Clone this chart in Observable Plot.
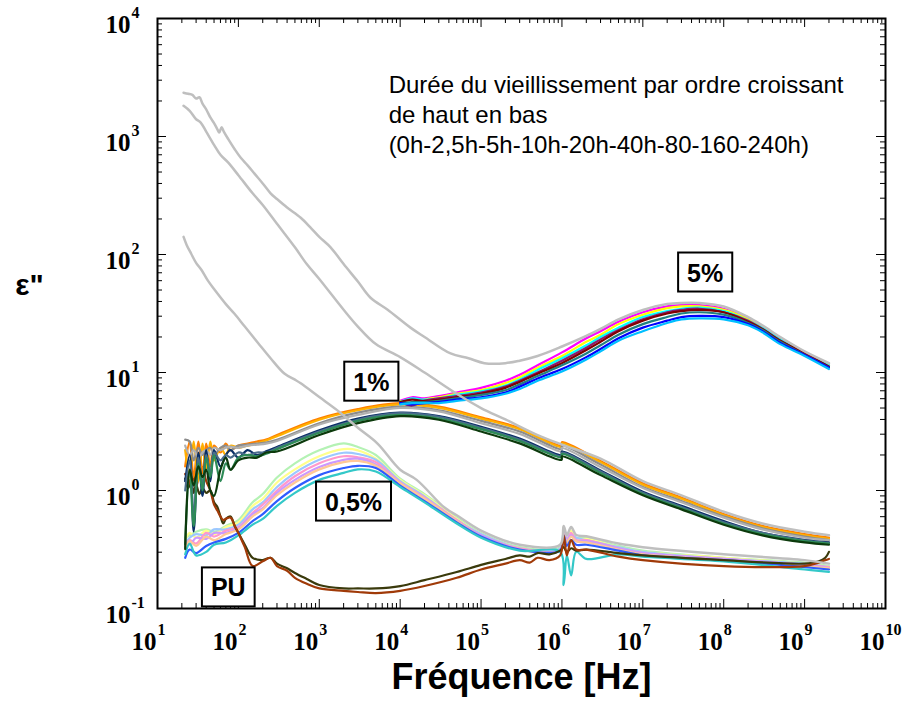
<!DOCTYPE html>
<html><head><meta charset="utf-8">
<script src="https://cdn.jsdelivr.net/npm/d3@7"></script>
<script src="https://cdn.jsdelivr.net/npm/@observablehq/plot@0.6"></script>
<style>body{margin:0;background:#fff;} svg{display:block;}</style>
</head><body><div id="chart"></div>
<script>
// ---------- tick labels (exponents of 10) ----------
const xTickExps = [1, 2, 3, 4, 5, 6, 7, 8, 9, 10];
const yTickExps = [-1, 0, 1, 2, 3, 4];

// ---------- 0h curves (grey) ----------
const freqGray5 = [21, 24, 27, 30, 33, 36, 40, 45, 50, 55, 58, 62, 66, 75, 90, 107, 130, 160, 200, 250, 300, 400, 590, 800, 1000, 1380, 2000, 3000, 4300, 7000, 1.34e4, 2e4, 4.2e4, 7e4, 1.1e5, 2e5, 3e5, 5e5, 1e6, 2e6, 3e6, 5e6, 1e7, 2e7, 3e7, 5e7, 1e8, 2e8, 3e8, 5e8, 1e9, 2e9];
const gray5_0h = [2350, 2300, 2250, 2100, 2150, 1900, 1700, 1450, 1300, 1150, 1080, 1200, 1100, 950, 780, 660, 570, 480, 400, 330, 295, 250, 205, 166, 141, 115, 83, 59, 43, 34, 24, 20, 14.5, 13.2, 12.0, 12.0, 12.6, 13.8, 16.6, 20.4, 23.4, 28.2, 33.9, 38.0, 38.9, 38.9, 36.3, 29.5, 25.1, 20.0, 15.1, 12.0];
const freqGray1 = [21, 25, 30, 34, 40, 50, 60, 75, 100, 150, 200, 300, 500, 700, 1000, 2000, 3000, 5000, 1e4, 2e4, 5e4, 1e5, 2e5, 5e5, 1e6, 3e6, 1e7, 3e7, 1e8, 3e8, 1e9, 2e9];
const gray1_0h = [1820, 1650, 1400, 1320, 1100, 850, 700, 600, 470, 330, 263, 182, 115, 83, 62, 34, 24.5, 17.4, 13.5, 10, 6.6, 5.0, 4.0, 2.95, 2.45, 1.86, 1.20, 0.91, 0.66, 0.525, 0.447, 0.417];
const freqGray05 = [21, 23, 26, 30, 35, 42, 50, 70, 89, 120, 175, 250, 370, 500, 590, 1000, 1660, 3000, 5250, 1e4, 1.6e4, 3.5e4, 5e4, 1e5, 3e5, 9.5e5, 1.05e6, 1.15e6, 1.3e6, 1.5e6, 2e6, 5e6, 1e7, 1e8, 1e9, 2e9];
const gray05_0h = [141, 120, 102, 85, 74, 60, 51, 38, 31.6, 24.5, 17.8, 13.2, 9.8, 8.7, 8.1, 6.2, 4.8, 3.4, 2.5, 1.5, 1.23, 0.72, 0.617, 0.457, 0.347, 0.347, 0.50, 0.42, 0.49, 0.42, 0.41, 0.355, 0.331, 0.288, 0.257, 0.240];

// ---------- 5 % ----------
const freq5 = [1e4, 1.4e4, 2e4, 3e4, 5e4, 1e5, 2e5, 3e5, 5e5, 1e6, 2e6, 3e6, 5e6, 1e7, 2e7, 3e7, 5e7, 1e8, 2e8, 3e8, 5e8, 1e9, 2e9];
const pct5_2h5 = [5.75, 6.17, 6.03, 6.31, 6.76, 7.41, 8.51, 9.55, 11.5, 14.8, 19.5, 22.4, 26.9, 32.4, 36.3, 37.2, 37.2, 34.7, 28.8, 24.5, 19.5, 14.8, 11.7];
const pct5_5h = [5.75, 5.50, 5.89, 6.17, 6.61, 7.08, 8.13, 9.12, 11.0, 13.8, 18.2, 20.9, 25.7, 30.9, 35.1, 36.3, 36.3, 33.9, 28.2, 24.0, 19.1, 14.8, 11.5];
const pct5_10h = [5.62, 6.03, 5.89, 6.03, 6.46, 6.92, 7.76, 8.71, 10.5, 13.2, 17.0, 20.0, 24.0, 29.5, 33.1, 34.7, 35.5, 33.1, 27.5, 24.0, 19.1, 14.5, 11.5];
const pct5_20h = [5.62, 5.25, 5.75, 6.03, 6.31, 6.76, 7.59, 8.51, 10.0, 12.6, 16.2, 19.1, 22.9, 28.2, 32.4, 33.9, 34.7, 32.4, 27.5, 23.4, 18.6, 14.5, 11.2];
const pct5_40h = [5.62, 5.89, 5.75, 5.89, 6.17, 6.61, 7.41, 8.32, 9.77, 12.0, 15.5, 18.2, 22.4, 27.5, 31.6, 33.1, 33.9, 32.4, 26.9, 23.4, 18.6, 14.5, 11.2];
const pct5_80h = [5.50, 5.62, 5.62, 5.75, 6.03, 6.46, 7.08, 7.94, 9.33, 11.5, 14.5, 17.0, 20.9, 25.7, 29.5, 31.6, 32.4, 30.9, 26.3, 22.9, 18.2, 14.1, 11.0];
const pct5_160h = [5.50, 5.37, 5.50, 5.62, 5.89, 6.17, 6.76, 7.59, 8.91, 10.7, 13.5, 15.8, 19.5, 24.0, 27.5, 29.5, 30.2, 29.5, 25.7, 22.4, 17.8, 14.1, 11.0];
const pct5_240h = [5.37, 5.50, 5.50, 5.50, 5.75, 6.03, 6.61, 7.24, 8.51, 10.2, 12.9, 15.1, 18.6, 22.4, 26.3, 28.2, 28.8, 28.2, 25.1, 21.9, 17.4, 13.8, 10.7];

// ---------- 1 % ----------
const freq1 = [22, 25, 28, 32, 36, 40, 45, 50, 60, 70, 80, 100, 130, 170, 220, 300, 1e3, 3e3, 1e4, 3e4, 1e5, 3e5, 9.9e5, 1e6, 3e6, 1e7, 3e7, 1e8, 3e8, 1e9, 2e9];
const pct1_2h5 = [1.6, 2.6, 1.3, 2.6, 1.4, 2.5, 1.6, 2.4, 2.1, 2.5, 2.2, 2.4, 2.5, 2.6, 2.7, 2.95, 4.07, 4.90, 5.50, 5.13, 4.17, 3.39, 2.40, 2.57, 1.78, 1.15, 0.871, 0.631, 0.501, 0.427, 0.398];
const pct1_5h = [2.2, 1.3, 2.6, 1.2, 2.5, 1.5, 2.6, 1.8, 2.3, 2.0, 2.4, 2.3, 2.4, 2.5, 2.65, 2.88, 3.98, 4.79, 5.37, 5.01, 4.07, 3.31, 2.34, 2.51, 1.74, 1.12, 0.851, 0.617, 0.490, 0.417, 0.389];
const pct1_10h = [2.7, 2.6, 1.8, 2.3, 2.0, 2.2, 2.3, 2.0, 2.3, 2.4, 2.2, 2.4, 2.45, 2.5, 2.55, 2.69, 3.72, 4.57, 5.13, 4.79, 3.89, 3.16, 2.24, 2.40, 1.66, 1.07, 0.813, 0.603, 0.479, 0.407, 0.380];
const pct1_20h = [2.4, 2.0, 2.2, 1.9, 2.1, 2.2, 2.0, 2.3, 2.2, 2.3, 2.35, 2.3, 2.4, 2.45, 2.5, 2.63, 3.63, 4.37, 5.01, 4.68, 3.72, 3.02, 2.14, 2.29, 1.58, 1.05, 0.794, 0.589, 0.468, 0.398, 0.380];
const pct1_40h = [1.2, 2.0, 0.45, 2.1, 0.9, 2.2, 1.2, 2.2, 1.6, 2.0, 2.2, 1.9, 2.2, 2.0, 2.15, 2.34, 3.24, 4.07, 4.57, 4.27, 3.47, 2.75, 2.00, 2.14, 1.48, 0.977, 0.741, 0.550, 0.437, 0.380, 0.363];
const pct1_80h = [1.0, 1.8, 0.6, 1.9, 1.1, 2.0, 1.4, 2.1, 1.8, 2.0, 1.9, 2.1, 2.0, 2.1, 2.1, 2.29, 3.16, 3.98, 4.52, 4.22, 3.39, 2.69, 1.95, 2.09, 1.45, 0.955, 0.724, 0.537, 0.437, 0.376, 0.359];
const pct1_160h = [0.35, 1.5, 0.5, 1.7, 1.0, 1.9, 1.3, 2.0, 1.2, 1.7, 1.5, 1.9, 2.0, 1.95, 2.05, 2.24, 3.09, 3.89, 4.37, 4.07, 3.31, 2.63, 1.91, 2.04, 1.41, 0.933, 0.708, 0.525, 0.427, 0.372, 0.355];
const pct1_240h = [0.32, 1.5, 1.1, 1.6, 1.3, 1.5, 1.0, 0.9, 1.5, 1.9, 1.5, 1.8, 1.9, 1.9, 2.1, 2.14, 2.95, 3.72, 4.27, 3.98, 3.16, 2.51, 1.82, 1.95, 1.35, 0.912, 0.692, 0.513, 0.417, 0.363, 0.347];

// ---------- 0,5 % ----------
const freq05 = [22, 25, 30, 40, 50, 70, 100, 150, 200, 300, 500, 1000, 2000, 3000, 5000, 1e4, 2e4, 5e4, 1e5, 3e5, 9.5e5, 1.05e6, 1.15e6, 1.3e6, 1.5e6, 2e6, 5e6, 1e7, 1e8, 1e9, 2e9];
const pct05_2h5 = [0.398, 0.417, 0.447, 0.468, 0.447, 0.501, 0.562, 0.794, 0.933, 1.29, 1.70, 2.19, 2.51, 2.34, 2.00, 1.26, 0.933, 0.589, 0.437, 0.331, 0.331, 0.468, 0.398, 0.447, 0.398, 0.398, 0.339, 0.309, 0.269, 0.245, 0.229];
const pct05_5h = [0.380, 0.437, 0.398, 0.457, 0.427, 0.490, 0.537, 0.741, 0.851, 1.17, 1.51, 1.95, 2.24, 2.19, 1.86, 1.23, 0.912, 0.575, 0.427, 0.324, 0.324, 0.490, 0.380, 0.457, 0.389, 0.389, 0.331, 0.302, 0.269, 0.240, 0.226];
const pct05_10h = [0.355, 0.398, 0.427, 0.417, 0.468, 0.468, 0.513, 0.692, 0.794, 1.07, 1.41, 1.82, 2.09, 2.04, 1.82, 1.20, 0.891, 0.562, 0.427, 0.324, 0.324, 0.437, 0.417, 0.427, 0.398, 0.380, 0.331, 0.302, 0.263, 0.240, 0.224];
const pct05_20h = [0.331, 0.380, 0.355, 0.437, 0.407, 0.457, 0.490, 0.646, 0.759, 1.00, 1.32, 1.70, 1.95, 1.91, 1.74, 1.17, 0.871, 0.562, 0.417, 0.324, 0.316, 0.457, 0.372, 0.437, 0.380, 0.380, 0.324, 0.295, 0.263, 0.234, 0.224];
const pct05_40h = [0.363, 0.347, 0.398, 0.389, 0.437, 0.437, 0.479, 0.631, 0.708, 0.955, 1.23, 1.58, 1.82, 1.86, 1.66, 1.15, 0.851, 0.550, 0.417, 0.316, 0.316, 0.468, 0.389, 0.417, 0.372, 0.372, 0.324, 0.295, 0.263, 0.234, 0.219];
const pct05_80h = [0.316, 0.372, 0.339, 0.407, 0.380, 0.427, 0.468, 0.603, 0.692, 0.912, 1.17, 1.51, 1.74, 1.78, 1.62, 1.15, 0.851, 0.550, 0.407, 0.316, 0.309, 0.427, 0.363, 0.407, 0.372, 0.363, 0.316, 0.288, 0.257, 0.229, 0.219];
const pct05_160h = [0.269, 0.316, 0.295, 0.339, 0.363, 0.389, 0.437, 0.550, 0.631, 0.813, 1.05, 1.35, 1.55, 1.62, 1.55, 1.10, 0.813, 0.537, 0.407, 0.316, 0.309, 0.417, 0.339, 0.380, 0.347, 0.347, 0.309, 0.282, 0.257, 0.224, 0.214];
const pct05_240h = [0.288, 0.355, 0.282, 0.302, 0.347, 0.363, 0.417, 0.513, 0.575, 0.741, 0.955, 1.23, 1.41, 1.51, 1.45, 1.07, 0.794, 0.525, 0.398, 0.309, 0.302, 0.158, 0.282, 0.191, 0.302, 0.263, 0.288, 0.275, 0.251, 0.214, 0.204];

// ---------- PU ----------
const freqPU = [22, 24, 26, 28, 30, 33, 36, 40, 45, 50, 55, 60, 65, 70, 80, 90, 100, 120, 150, 200, 250, 300, 400, 500, 700, 1000, 2000, 3000, 5000, 1e4, 2e4, 5e4, 1e5, 2e5, 3e5, 4e5, 5e5, 7e5, 9.5e5, 1.05e6, 1.15e6, 1.3e6, 1.5e6, 2e6, 5e6, 1e7, 1e8, 1e9, 1.5e9, 1.8e9, 2e9];
const pu_a = [1.26, 1.05, 1.20, 0.955, 1.12, 0.933, 1.05, 0.955, 1.00, 0.794, 0.724, 0.603, 0.525, 0.575, 0.603, 0.501, 0.437, 0.347, 0.269, 0.257, 0.269, 0.240, 0.219, 0.200, 0.178, 0.158, 0.148, 0.148, 0.148, 0.155, 0.174, 0.204, 0.234, 0.263, 0.282, 0.275, 0.295, 0.288, 0.309, 0.331, 0.302, 0.324, 0.309, 0.316, 0.295, 0.282, 0.257, 0.240, 0.251, 0.269, 0.302];
const pu_b = [1.38, 1.26, 1.12, 1.32, 1.07, 1.41, 1.58, 1.20, 1.00, 0.759, 0.676, 0.603, 0.562, 0.575, 0.589, 0.501, 0.437, 0.331, 0.229, 0.251, 0.269, 0.229, 0.209, 0.182, 0.162, 0.148, 0.141, 0.138, 0.135, 0.141, 0.155, 0.182, 0.214, 0.240, 0.257, 0.245, 0.269, 0.257, 0.282, 0.417, 0.282, 0.380, 0.316, 0.316, 0.275, 0.257, 0.229, 0.229, 0.245, 0.257, 0.263];

// ---------- labels ----------
const groupLabels = ["5%", "1%", "0,5%", "PU"];
const groupLabelFreq = [5.9e7, 4.4e3, 2.65e3, 75];
const groupLabelEps = [69, 8.2, 0.79, 0.148];
const noteText = "Durée du vieillissement par ordre croissant\nde haut en bas\n(0h-2,5h-5h-10h-20h-40h-80-160-240h)";

// ---------- series list (drawing order) ----------
const series = [
  [freq05, pct05_2h5, "#b4f2b4", 2.2], [freq05, pct05_5h, "#ffff8c", 2.2], [freq05, pct05_10h, "#9cc8ff", 2.2],
  [freq05, pct05_20h, "#ff99cc", 2.2], [freq05, pct05_40h, "#cc99ff", 2.2], [freq05, pct05_80h, "#ffc896", 2.2],
  [freq05, pct05_160h, "#2f5cff", 2.2], [freq05, pct05_240h, "#33c8c8", 2.2],
  [freqPU, pu_a, "#3a3a0c", 2.2], [freqPU, pu_b, "#a03a08", 2.2],
  [freq1, pct1_2h5, "#ff8000", 2.2], [freq1, pct1_5h, "#ffb000", 2.2], [freq1, pct1_10h, "#8c8c8c", 2.2],
  [freq1, pct1_20h, "#b0b0b0", 2.2], [freq1, pct1_40h, "#0a2f66", 2.2], [freq1, pct1_80h, "#4a6c8c", 2.2],
  [freq1, pct1_160h, "#2e8b57", 2.2], [freq1, pct1_240h, "#0c3a0c", 2.2],
  [freq5, pct5_2h5, "#ff00ff", 2.2], [freq5, pct5_5h, "#ffff00", 2.2], [freq5, pct5_10h, "#00ffff", 2.2],
  [freq5, pct5_20h, "#8b1a6b", 2.2], [freq5, pct5_40h, "#800000", 2.2], [freq5, pct5_80h, "#208080", 2.2],
  [freq5, pct5_160h, "#0000ff", 2.2], [freq5, pct5_240h, "#00bfff", 2.2],
  [freqGray05, gray05_0h, "#bfbfbf", 2.5], [freqGray1, gray1_0h, "#bfbfbf", 2.5], [freqGray5, gray5_0h, "#bfbfbf", 2.5]
];

const W = 915, H = 721, mL = 157, mR = 30, mT = 18, mB = 113;
const frameW = W - mL - mR, frameH = H - mT - mB;

const xMajor = xTickExps.map(e => Math.pow(10, e));
const yMajor = yTickExps.map(e => Math.pow(10, e));
const xMinor = [], yMinor = [];
for (let e = 1; e < 10; e++) for (let m = 2; m <= 9; m++) xMinor.push(m * Math.pow(10, e));
for (let e = -1; e < 4; e++) for (let m = 2; m <= 9; m++) yMinor.push(m * Math.pow(10, e));

const marks = [];
for (const [f, v, c, w] of series) {
  const data = f.map((fr, i) => ({f: fr, v: v[i]}));
  marks.push(Plot.line(data, {x: "f", y: "v", stroke: c, strokeWidth: w, curve: "catmull-rom"}));
}
// inward ticks on four sides
const tk = {stroke: "black", strokeWidth: 1};
marks.push(Plot.ruleX(xMajor, {...tk, insetTop: frameH - 9}));
marks.push(Plot.ruleX(xMajor, {...tk, insetBottom: frameH - 9}));
marks.push(Plot.ruleX(xMinor, {...tk, insetTop: frameH - 5}));
marks.push(Plot.ruleX(xMinor, {...tk, insetBottom: frameH - 5}));
marks.push(Plot.ruleY(yMajor, {...tk, insetRight: frameW - 9}));
marks.push(Plot.ruleY(yMajor, {...tk, insetLeft: frameW - 9}));
marks.push(Plot.ruleY(yMinor, {...tk, insetRight: frameW - 5}));
marks.push(Plot.ruleY(yMinor, {...tk, insetLeft: frameW - 5}));
marks.push(Plot.frame({stroke: "black", strokeWidth: 2}));

// tick labels: 10 with superscript exponent
const serif = "'Liberation Serif','Times New Roman',serif";
const sans = "'Liberation Sans',Arial,sans-serif";
marks.push(Plot.text(xTickExps, {x: e => Math.pow(10, e), y: () => 0.1, text: () => "10", textAnchor: "end", dx: -1, dy: 33, fontSize: 25, fontWeight: "bold", fontFamily: serif, fill: "black"}));
marks.push(Plot.text(xTickExps, {x: e => Math.pow(10, e), y: () => 0.1, text: e => String(e), textAnchor: "start", dx: 0, dy: 21, fontSize: 16, fontWeight: "bold", fontFamily: serif, fill: "black"}));
marks.push(Plot.text(yTickExps, {x: () => 10, y: e => Math.pow(10, e), text: () => "10", textAnchor: "end", dx: -27, dy: 6, fontSize: 25, fontWeight: "bold", fontFamily: serif, fill: "black"}));
marks.push(Plot.text(yTickExps, {x: () => 10, y: e => Math.pow(10, e), text: e => String(e), textAnchor: "start", dx: -26, dy: -6, fontSize: 16, fontWeight: "bold", fontFamily: serif, fill: "black"}));

// axis titles
marks.push(Plot.text(["Fréquence [Hz]"], {frameAnchor: "bottom", lineAnchor: "middle", textAnchor: "middle", dy: 69, fontSize: 36, fontWeight: "bold", fontFamily: sans, fill: "black"}));
marks.push(Plot.text(['ε"'], {frameAnchor: "left", lineAnchor: "middle", textAnchor: "middle", dx: -128, dy: -28, fontSize: 30, fontWeight: "bold", fontFamily: sans, fill: "black"}));

// note
marks.push(Plot.text([noteText], {x: () => 7200, y: () => 1570, textAnchor: "start", lineAnchor: "middle", lineHeight: 1.25, fontSize: 24, fontFamily: sans, fill: "black"}));

// boxed group labels
marks.push(Plot.text(groupLabels, {x: (d, i) => groupLabelFreq[i], y: (d, i) => groupLabelEps[i], text: d => d, fontSize: 25, fontWeight: "bold", fontFamily: sans, fill: "black"}));

const plot = Plot.plot({
  width: W, height: H,
  marginLeft: mL, marginRight: mR, marginTop: mT, marginBottom: mB,
  x: {type: "log", domain: [10, 1e10], axis: null},
  y: {type: "log", domain: [0.1, 1e4], axis: null},
  style: {background: "white", overflow: "visible"},
  marks
});
document.getElementById("chart").append(plot);

// draw boxes behind the group labels
const svgEl = plot.tagName.toLowerCase() === "svg" ? plot : plot.querySelector("svg");
Array.from(svgEl.querySelectorAll("text"))
  .filter(t => groupLabels.includes(t.textContent))
  .forEach(t => {
    const b = t.getBBox();
    const r = document.createElementNS("http://www.w3.org/2000/svg", "rect");
    r.setAttribute("x", b.x - 9);
    r.setAttribute("y", b.y - 6);
    r.setAttribute("width", b.width + 18);
    r.setAttribute("height", b.height + 11);
    r.setAttribute("fill", "white");
    r.setAttribute("stroke", "black");
    r.setAttribute("stroke-width", 2);
    if (t.getAttribute("transform")) r.setAttribute("transform", t.getAttribute("transform"));
    t.parentNode.insertBefore(r, t);
  });
</script>
</body></html>
